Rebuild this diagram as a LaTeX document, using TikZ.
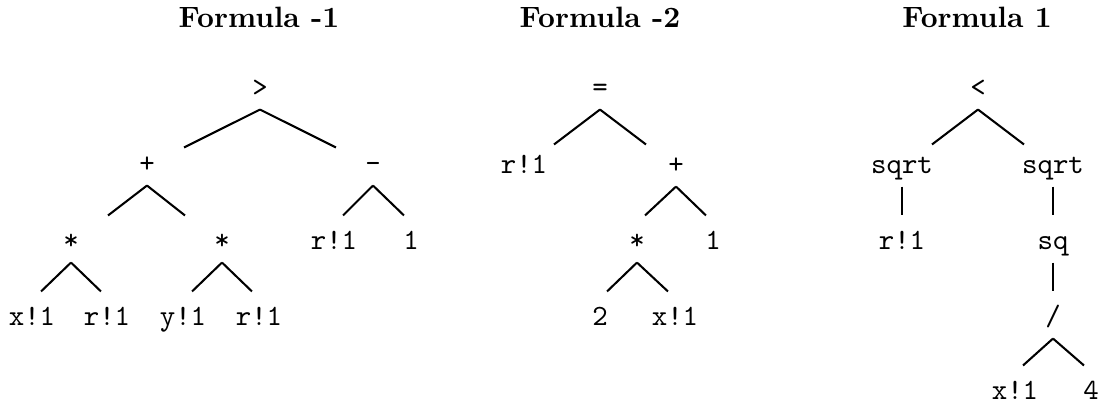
\documentclass[tikz,border=0pt]{standalone}
\usepackage{tikz}
\usetikzlibrary{calc}
\tikzset{
  heading/.style={font=\bfseries,anchor=base,inner sep=0pt},
  term/.style={font=\ttfamily,anchor=base,inner sep=0pt,
               text height=11.2pt,text depth=4.4pt},
  branch/.style={line width=0.7pt}
}
\begin{document}
\begin{tikzpicture}[x=0.34pt,y=-0.34pt]
  \useasboundingbox (0,0) rectangle (1101,404);
  % headings
  \node[heading] (headA) at (259,27) {Formula -1};
  \node[heading] (headB) at (600,27) {Formula -2};
  \node[heading] (headC) at (977,27) {Formula 1};
  % formula -1
  \node[term] (aGt)    at (260,96)  {>};
  \node[term] (aPlus)  at (147,172) {+};
  \node[term] (aMinus) at (373,172) {-};
  \node[term] (aMulL)  at (71,249)  {*};
  \node[term] (aMulR)  at (222,249) {*};
  \node[term] (aR)     at (334,249) {r!1};
  \node[term] (aOne)   at (411,249) {1};
  \node[term] (aX)     at (32,325)  {x!1};
  \node[term] (aRL)    at (107,325) {r!1};
  \node[term] (aY)     at (183,325) {y!1};
  \node[term] (aRR)    at (259,325) {r!1};
  % formula -2
  \node[term] (bEq)   at (600,96)  {=};
  \node[term] (bR)    at (524,173) {r!1};
  \node[term] (bPlus) at (676,173) {+};
  \node[term] (bMul)  at (637,249) {*};
  \node[term] (bOne)  at (713,249) {1};
  \node[term] (bTwo)  at (600,325) {2};
  \node[term] (bX)    at (675,325) {x!1};
  % formula 1
  \node[term] (cLt)    at (978,96)   {<};
  \node[term] (cSqrtL) at (902,173)  {sqrt};
  \node[term] (cSqrtR) at (1053,173) {sqrt};
  \node[term] (cR)     at (902,249)  {r!1};
  \node[term] (cSq)    at (1053,249) {sq};
  \node[term] (cDiv)   at (1053,325) {/};
  \node[term] (cX)     at (1015,399) {x!1};
  \node[term] (cFour)  at (1091,399) {4};
  % branches: parent/child/shift x/shift y
  \foreach \p/\c/\dx/\dy in {aGt/aPlus/37/9, aGt/aMinus/-37/9,
      aPlus/aMulL/37/0, aPlus/aMulR/-37/0, aMinus/aR/9/0, aMinus/aOne/-7/0,
      aMulL/aX/9/0, aMulL/aRL/-6/0, aMulR/aY/9/0, aMulR/aRR/-7/0,
      bEq/bR/30/5, bEq/bPlus/-30/5, bPlus/bMul/8/0, bPlus/bOne/-7/0,
      bMul/bTwo/7/0, bMul/bX/-7/0,
      cLt/cSqrtL/30/5, cLt/cSqrtR/-29/5, cSqrtL/cR/0/0, cSqrtR/cSq/0/0,
      cSq/cDiv/0/0, cDiv/cX/8/0, cDiv/cFour/-7/0} {
    \draw[branch] (\p.south) -- ($(\c.north)+(\dx,\dy)$);
  }
\end{tikzpicture}
\end{document}
